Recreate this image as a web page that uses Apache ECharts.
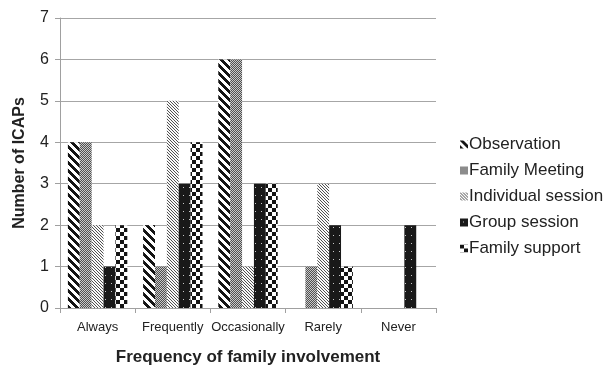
<!DOCTYPE html>
<html>
<head>
<meta charset="utf-8">
<script src="https://cdn.jsdelivr.net/npm/echarts@6/dist/echarts.min.js"></script>
<style>
  html, body { margin: 0; padding: 0; background: #fff; }
  #chart { width: 615px; height: 371px; }
</style>
</head>
<body>
<div id="chart"></div>
<script>
const categories = ['Always', 'Frequently', 'Occasionally', 'Rarely', 'Never'];
const observation = [4, 2, 6, 0, 0];
const familyMeeting = [4, 1, 6, 1, 0];
const individualSession = [2, 5, 1, 3, 0];
const groupSession = [1, 3, 3, 2, 2];
const familySupport = [2, 4, 3, 1, 0];
const seriesNames = ['Observation', 'Family Meeting', 'Individual session', 'Group session', 'Family support'];
const yTicks = [0, 1, 2, 3, 4, 5, 6, 7];

// Build a repeating fill tile pixel by pixel
function tile(w, h, pick) {
  const c = document.createElement('canvas');
  c.width = w; c.height = h;
  const ctx = c.getContext('2d');
  const img = ctx.createImageData(w, h);
  for (let y = 0; y < h; y++) {
    for (let x = 0; x < w; x++) {
      const v = pick(x, y);
      const i = (y * w + x) * 4;
      img.data[i] = v; img.data[i + 1] = v; img.data[i + 2] = v; img.data[i + 3] = 255;
    }
  }
  ctx.putImageData(img, 0, 0);
  return { image: c, repeat: 'repeat' };
}

const fills = [
  // wide diagonal stripes
  tile(8, 8, (x, y) => (((x - y) % 8 + 8) % 8) < 4 ? 20 : 255),
  // fine grey dither
  tile(2, 2, (x, y) => ((x + y) % 2) ? 80 : 200),
  // thin diagonal hatching
  tile(3, 3, (x, y) => (((x - y) % 3 + 3) % 3) === 0 ? 80 : 250),
  // black with sparse light dots
  tile(6, 8, (x, y) => (x === 3 && (y === 3)) ? 200 : 25),
  // coarse checkerboard
  tile(8, 8, (x, y) => ((Math.floor(x / 4) + Math.floor(y / 4)) % 2) ? 255 : 20)
];

const values = [observation, familyMeeting, individualSession, groupSession, familySupport];
const font = '"Liberation Sans", Arial, Helvetica, sans-serif';

const chart = echarts.init(document.getElementById('chart'), null, { renderer: 'canvas' });
chart.setOption({
  animation: false,
  backgroundColor: '#fff',
  textStyle: { fontFamily: font, color: '#222' },
  grid: { left: 60, right: 179, top: 18, bottom: 60, containLabel: false },
  legend: {
    orient: 'vertical',
    left: 455,
    top: 131,
    itemWidth: 8,
    itemHeight: 8,
    itemGap: 9,
    icon: 'rect',
    data: seriesNames,
    textStyle: { fontFamily: font, fontSize: 17, color: '#222', lineHeight: 17, padding: [0, 0, 0, -4] }
  },
  xAxis: {
    type: 'category',
    data: categories,
    name: 'Frequency of family involvement',
    nameLocation: 'middle',
    nameGap: 41,
    nameTextStyle: { fontFamily: font, fontSize: 17, fontWeight: 'bold', color: '#222' },
    axisLine: { lineStyle: { color: '#a0a0a0', width: 1 } },
    axisTick: { show: true, length: 5, lineStyle: { color: '#a0a0a0' } },
    axisLabel: { fontFamily: font, fontSize: 13, color: '#222', margin: 13, interval: 0 },
    splitLine: { show: false }
  },
  yAxis: {
    type: 'value',
    min: yTicks[0],
    max: yTicks[yTicks.length - 1],
    interval: 1,
    name: 'Number of ICAPs',
    nameLocation: 'middle',
    nameGap: 32,
    nameRotate: 90,
    nameTextStyle: { fontFamily: font, fontSize: 16, fontWeight: 'bold', color: '#222' },
    axisLine: { show: true, lineStyle: { color: '#a0a0a0', width: 1 } },
    axisTick: { show: true, length: 5, lineStyle: { color: '#a0a0a0' } },
    axisLabel: { fontFamily: font, fontSize: 16, color: '#222', margin: 11 },
    splitLine: { lineStyle: { color: '#a6a6a6', width: 1 } }
  },
  series: seriesNames.map((name, i) => ({
    name: name,
    type: 'bar',
    data: values[i],
    barGap: '0%',
    barCategoryGap: '21%',
    itemStyle: { color: fills[i] },
    emphasis: { disabled: true }
  }))
});
</script>
</body>
</html>
